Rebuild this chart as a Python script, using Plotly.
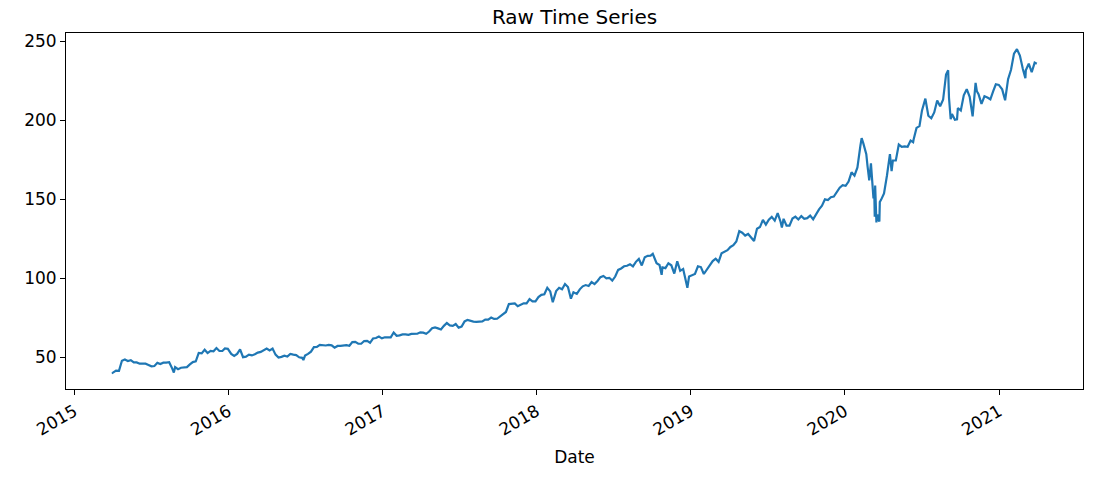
import plotly.graph_objects as go
import pandas as pd

# Weekly-ish closing values
dates_2015 = ["2015-04-01", "2015-04-02", "2015-04-10", "2015-04-17", "2015-04-24", "2015-05-01", "2015-05-08",
              "2015-05-15", "2015-05-22", "2015-05-29", "2015-06-05", "2015-06-12", "2015-06-19",
              "2015-06-26", "2015-07-03", "2015-07-10", "2015-07-17", "2015-07-24", "2015-07-31",
              "2015-08-07", "2015-08-14", "2015-08-21", "2015-08-25", "2015-08-28", "2015-09-04",
              "2015-09-11", "2015-09-18", "2015-09-25", "2015-10-02", "2015-10-09", "2015-10-16",
              "2015-10-23", "2015-10-30", "2015-11-06", "2015-11-13", "2015-11-20", "2015-11-27",
              "2015-12-04", "2015-12-11", "2015-12-18", "2015-12-24", "2015-12-31"]
values_2015 = [40.7, 40.3, 41.7, 41.6, 47.9, 48.7, 47.8, 48.3, 46.9, 46.9, 46.1, 46.0, 46.1,
               45.3, 44.4, 44.6, 46.6, 45.9, 46.7, 46.7, 47.0, 43.1, 40.5, 43.9, 42.6,
               43.5, 43.5, 43.9, 45.6, 47.1, 47.5, 52.9, 52.6, 54.9, 52.8, 54.2, 53.9,
               56.0, 54.1, 54.1, 55.7, 55.5]

dates_2016 = ["2016-01-08", "2016-01-15", "2016-01-22", "2016-01-29", "2016-02-05", "2016-02-12",
              "2016-02-19", "2016-02-26", "2016-03-04", "2016-03-11", "2016-03-18", "2016-03-24",
              "2016-04-01", "2016-04-08", "2016-04-15", "2016-04-22", "2016-04-29", "2016-05-06",
              "2016-05-13", "2016-05-20", "2016-05-27", "2016-06-03", "2016-06-10", "2016-06-17",
              "2016-06-24", "2016-06-27", "2016-07-01", "2016-07-08", "2016-07-15", "2016-07-22",
              "2016-07-29", "2016-08-05", "2016-08-12", "2016-08-19", "2016-08-26", "2016-09-02",
              "2016-09-09", "2016-09-16", "2016-09-23", "2016-09-30", "2016-10-07", "2016-10-14",
              "2016-10-21", "2016-10-28", "2016-11-04", "2016-11-11", "2016-11-18", "2016-11-25",
              "2016-12-02", "2016-12-09", "2016-12-16", "2016-12-23", "2016-12-30"]
values_2016 = [52.3, 51.0, 52.3, 55.1, 50.2, 50.5, 51.8, 51.3, 52.0, 53.1, 53.5, 54.2,
               55.6, 54.4, 55.6, 51.8, 49.9, 50.4, 51.1, 50.6, 52.3, 51.8, 51.5, 50.1,
               49.8, 48.4, 51.2, 52.3, 53.7, 56.6, 56.7, 58.0, 57.9, 57.6, 58.0, 57.7,
               56.2, 57.3, 57.4, 57.6, 57.8, 57.4, 59.7, 59.9, 58.7, 58.7, 60.4, 60.5,
               59.3, 62.0, 62.3, 63.2, 62.1]

dates_2017 = ["2017-01-06", "2017-01-13", "2017-01-20", "2017-01-27", "2017-02-03", "2017-02-10",
              "2017-02-17", "2017-02-24", "2017-03-03", "2017-03-10", "2017-03-17", "2017-03-24",
              "2017-03-31", "2017-04-07", "2017-04-14", "2017-04-21", "2017-04-28", "2017-05-05",
              "2017-05-12", "2017-05-19", "2017-05-26", "2017-06-02", "2017-06-09", "2017-06-16",
              "2017-06-23", "2017-06-30", "2017-07-07", "2017-07-14", "2017-07-21", "2017-07-28",
              "2017-08-04", "2017-08-11", "2017-08-18", "2017-08-25", "2017-09-01", "2017-09-08",
              "2017-09-15", "2017-09-22", "2017-09-29", "2017-10-06", "2017-10-13", "2017-10-20",
              "2017-10-27", "2017-11-03", "2017-11-10", "2017-11-17", "2017-11-24", "2017-12-01",
              "2017-12-08", "2017-12-15", "2017-12-22", "2017-12-29"]
values_2017 = [62.8, 62.7, 62.7, 65.8, 63.7, 64.0, 64.6, 64.6, 64.3, 64.9, 64.9, 65.0,
               65.9, 65.7, 65.0, 66.4, 68.5, 69.0, 68.4, 67.7, 70.0, 71.8, 70.3, 70.0,
               71.2, 68.9, 69.5, 72.8, 73.8, 73.0, 72.7, 72.5, 72.5, 72.8, 74.0, 74.0,
               75.3, 74.4, 74.5, 76.0, 77.5, 78.8, 83.8, 84.1, 84.2, 82.4, 83.3, 84.3,
               84.2, 86.9, 85.5, 85.5]

dates_2018 = ["2018-01-05", "2018-01-12", "2018-01-19", "2018-01-26", "2018-02-02", "2018-02-08",
              "2018-02-16", "2018-02-23", "2018-03-02", "2018-03-09", "2018-03-16", "2018-03-23",
              "2018-03-29", "2018-04-06", "2018-04-13", "2018-04-20", "2018-04-27", "2018-05-04",
              "2018-05-11", "2018-05-18", "2018-05-25", "2018-06-01", "2018-06-08", "2018-06-15",
              "2018-06-22", "2018-06-29", "2018-07-06", "2018-07-13", "2018-07-20", "2018-07-27",
              "2018-08-03", "2018-08-10", "2018-08-17", "2018-08-24", "2018-08-31", "2018-09-07",
              "2018-09-14", "2018-09-21", "2018-09-28", "2018-10-03", "2018-10-12", "2018-10-19",
              "2018-10-24", "2018-10-26", "2018-11-02", "2018-11-09", "2018-11-16", "2018-11-23",
              "2018-11-30", "2018-12-07", "2018-12-14", "2018-12-21", "2018-12-24", "2018-12-28"]
values_2018 = [88.2, 89.6, 90.0, 94.1, 91.8, 85.0, 92.0, 94.1, 93.1, 96.5, 94.6, 87.2,
               91.3, 90.2, 93.1, 95.0, 95.8, 95.2, 97.7, 96.4, 98.4, 100.8, 101.6, 100.1,
               100.4, 98.6, 101.2, 105.4, 106.3, 107.7, 108.0, 109.0, 107.6, 110.5, 112.3, 108.2,
               113.4, 114.3, 114.4, 115.6, 109.6, 108.5, 102.3, 107.0, 106.5, 109.6, 108.3, 103.1,
               110.9, 104.8, 106.0, 98.2, 94.1, 101.2]

dates_2019 = ["2019-01-04", "2019-01-11", "2019-01-18", "2019-01-25", "2019-02-01", "2019-02-08",
              "2019-02-15", "2019-02-22", "2019-03-01", "2019-03-08", "2019-03-15", "2019-03-22",
              "2019-03-29", "2019-04-05", "2019-04-12", "2019-04-19", "2019-04-26", "2019-05-03",
              "2019-05-10", "2019-05-17", "2019-05-24", "2019-05-31", "2019-06-07", "2019-06-14",
              "2019-06-21", "2019-06-28", "2019-07-05", "2019-07-12", "2019-07-19", "2019-07-26",
              "2019-08-02", "2019-08-05", "2019-08-09", "2019-08-16", "2019-08-23", "2019-08-30",
              "2019-09-06", "2019-09-13", "2019-09-20", "2019-09-27", "2019-10-04", "2019-10-11",
              "2019-10-18", "2019-10-25", "2019-11-01", "2019-11-08", "2019-11-15", "2019-11-22",
              "2019-11-29", "2019-12-06", "2019-12-13", "2019-12-20", "2019-12-27"]
values_2019 = [101.9, 102.8, 107.7, 107.2, 102.8, 105.7, 108.2, 111.0, 112.5, 110.5, 115.9, 117.1,
               117.9, 119.9, 121.0, 123.4, 129.9, 128.9, 127.1, 128.1, 126.2, 123.7, 131.4, 132.5,
               137.0, 134.0, 137.1, 138.9, 136.6, 141.3, 135.7, 132.2, 137.7, 133.4, 133.4, 137.9,
               139.1, 137.3, 139.4, 137.7, 138.1, 139.7, 137.4, 140.7, 143.7, 146.0, 150.0, 149.6,
               151.4, 151.8, 154.5, 157.4, 159.0]

dates_2020 = ["2020-01-03", "2020-01-10", "2020-01-17", "2020-01-24", "2020-01-31", "2020-02-07",
              "2020-02-10", "2020-02-14", "2020-02-21", "2020-02-24", "2020-02-28", "2020-03-03",
              "2020-03-06", "2020-03-09", "2020-03-11", "2020-03-12", "2020-03-13", "2020-03-16",
              "2020-03-18", "2020-03-20", "2020-03-23", "2020-03-24", "2020-03-27", "2020-04-03",
              "2020-04-10", "2020-04-17", "2020-04-21", "2020-04-24", "2020-05-01", "2020-05-08",
              "2020-05-15", "2020-05-22", "2020-05-29", "2020-06-05", "2020-06-11", "2020-06-12",
              "2020-06-19", "2020-06-26", "2020-07-02", "2020-07-10", "2020-07-17", "2020-07-24",
              "2020-07-31", "2020-08-07", "2020-08-14", "2020-08-21", "2020-08-28", "2020-09-02",
              "2020-09-04", "2020-09-08", "2020-09-11", "2020-09-18", "2020-09-23", "2020-09-25",
              "2020-10-02", "2020-10-09", "2020-10-16", "2020-10-23", "2020-10-30", "2020-11-06",
              "2020-11-09", "2020-11-13", "2020-11-20", "2020-11-27", "2020-12-04", "2020-12-11",
              "2020-12-18", "2020-12-24", "2020-12-31"]
values_2020 = [158.6, 161.3, 167.1, 165.0, 170.2, 183.9, 188.7, 185.4, 178.6, 170.9, 162.0, 172.8,
               161.6, 150.6, 153.6, 139.1, 158.8, 135.4,
               140.4, 137.4, 135.98, 148.3, 149.7, 153.8,
               165.1, 178.6, 167.8, 174.6, 174.6, 184.7,
               183.2, 183.5, 183.3, 187.2, 186.2, 187.7,
               195.2, 196.3, 206.3, 213.7, 202.9, 201.3,
               205.0, 212.5, 208.9, 213.0, 228.9, 231.7,
               214.3, 200.7, 204.0, 200.4, 200.6, 207.8,
               206.2, 215.8, 219.7, 214.9, 202.5, 223.7,
               218.4, 216.5, 210.4, 215.2, 214.4, 213.3,
               218.6, 222.8, 222.4]

dates_2021 = ["2021-01-08", "2021-01-15", "2021-01-22", "2021-01-29", "2021-02-05", "2021-02-12",
              "2021-02-19", "2021-02-26", "2021-03-04", "2021-03-05", "2021-03-12", "2021-03-19",
              "2021-03-26", "2021-03-31"]
values_2021 = [219.6, 212.7, 226.0, 232.0, 242.2, 245.0, 241.0, 232.4, 226.7, 231.6, 235.8, 230.4,
               236.5, 235.8]

dates = pd.to_datetime(dates_2015 + dates_2016 + dates_2017 + dates_2018 + dates_2019 + dates_2020 + dates_2021)
values = values_2015 + values_2016 + values_2017 + values_2018 + values_2019 + values_2020 + values_2021

tick_years = ["2015", "2016", "2017", "2018", "2019", "2020", "2021"]
y_ticks = [50, 100, 150, 200, 250]

# matplotlib-like 5% margins
span = dates.max() - dates.min()
x_range = [dates.min() - span * 0.05, dates.max() + span * 0.05]
vmin, vmax = min(values), max(values)
y_range = [vmin - (vmax - vmin) * 0.05, vmax + (vmax - vmin) * 0.05]

font_family = "DejaVu Sans"

fig = go.Figure()
fig.add_trace(go.Scatter(x=dates, y=values, mode="lines",
                         line=dict(color="#1f77b4", width=2.2)))

fig.update_layout(
    width=1100, height=498,
    margin=dict(l=66, r=17, t=33, b=109),
    paper_bgcolor="white", plot_bgcolor="white",
    showlegend=False,
    font=dict(family=font_family, color="black", size=17),
    title=dict(text="Raw Time Series", x=0.5, xref="paper", xanchor="center",
               y=1, yref="paper", yanchor="bottom", pad=dict(b=9),
               font=dict(size=20, family=font_family, color="black")),
)
fig.update_xaxes(
    range=x_range,
    tickvals=pd.to_datetime([y + "-01-01" for y in tick_years]),
    ticktext=tick_years,
    tickangle=-30,
    ticks="outside", ticklen=5, tickwidth=1, tickcolor="black",
    showline=True, linecolor="black", linewidth=1, mirror=True,
    showgrid=False, zeroline=False,
    tickfont=dict(size=17, family=font_family),
    title=dict(text="Date", font=dict(size=17, family=font_family), standoff=12),
)
fig.update_yaxes(
    range=y_range,
    tickvals=y_ticks,
    ticks="outside", ticklen=5, tickwidth=1, tickcolor="black",
    showline=True, linecolor="black", linewidth=1, mirror=True,
    showgrid=False, zeroline=False,
    tickfont=dict(size=17, family=font_family),
)

fig.write_html("out.html")
